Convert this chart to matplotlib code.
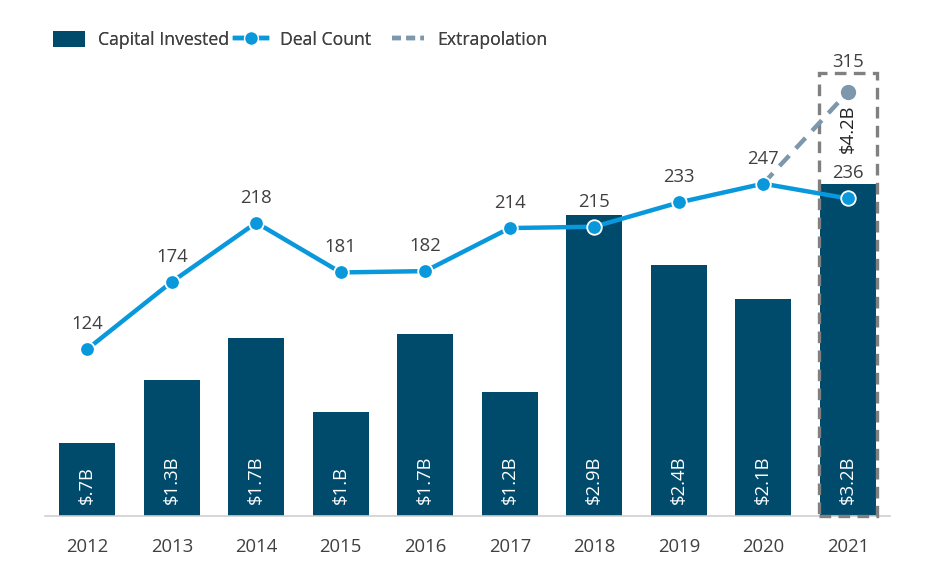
import matplotlib
matplotlib.use("Agg")
import matplotlib.pyplot as plt
from matplotlib.patches import Rectangle
from matplotlib.lines import Line2D
from matplotlib.patches import Patch

plt.rcParams['font.family'] = ['Open Sans', 'DejaVu Sans']

years = ['2012', '2013', '2014', '2015', '2016', '2017', '2018', '2019', '2020', '2021']
capital = [0.70, 1.31, 1.71, 1.00, 1.75, 1.19, 2.90, 2.42, 2.09, 3.20]
capital_labels = ['$.7B', '$1.3B', '$1.7B', '$1.B', '$1.7B', '$1.2B', '$2.9B', '$2.4B', '$2.1B', '$3.2B']
deals = [124, 174, 218, 181, 182, 214, 215, 233, 247, 236]
extrap_years = ['2020', '2021']
extrap_deals = [247, 315]
extrap_capital_label = '$4.2B'
legend_labels = ['Capital Invested', 'Deal Count', 'Extrapolation']

BAR = '#004a6b'
LINE = '#0a98dc'
EXT = '#7d97ad'
TXT = '#404040'
FS = 13.3
LFS = 12.7

fig = plt.figure(figsize=(9.36, 5.80), dpi=100)
ax = fig.add_axes([45/936, 64/580, 845/936, 456/580])
ax2 = ax.twinx()

x = list(range(len(years)))
ax.bar(x, capital, width=0.66, color=BAR, zorder=2)
ax.set_xlim(-0.5, len(years) - 0.5)
ax.set_ylim(0, 4.393)
ax2.set_ylim(0, 338.9)

for xi, lab in zip(x, capital_labels):
    ax.text(xi, 0.12, lab, rotation=90, ha='center', va='bottom', color='white', fontsize=FS, zorder=3)

# dashed box around the last year
bx = years.index(extrap_years[-1])
ax.add_patch(Rectangle((bx - 0.345, 0), 0.69, 4.268, fill=False, edgecolor='#808080',
                       linewidth=2.4, linestyle=(0, (3.5, 2.2)), zorder=4, clip_on=False))

# extrapolation
ex = [years.index(y) for y in extrap_years]
ax2.plot(ex, extrap_deals, color=EXT, linewidth=3.2, linestyle=(0, (3.2, 2.2)), zorder=3)
ax2.plot(ex[-1:], extrap_deals[-1:], 'o', color=EXT, markersize=10, zorder=4)
ax2.text(ex[-1], extrap_deals[-1] + 16, str(extrap_deals[-1]), ha='center', va='bottom', color=TXT, fontsize=FS)
ax2.text(ex[-1], 288, extrap_capital_label, rotation=90, ha='center', va='center', color='#222222', fontsize=FS)

# deal count
ax2.plot(x, deals, color=LINE, linewidth=3.2, marker='o', markersize=10.5,
         markerfacecolor=LINE, markeredgecolor='white', markeredgewidth=1.3, zorder=5)
for xi, d in zip(x, deals):
    ax2.text(xi, d + 12, str(d), ha='center', va='bottom', color=TXT, fontsize=FS)

for a in (ax, ax2):
    for s in ('top', 'left', 'right'):
        a.spines[s].set_visible(False)
    a.set_yticks([])
ax2.spines['bottom'].set_visible(False)
ax.spines['bottom'].set_color('#d0d0d0')
ax.spines['bottom'].set_linewidth(1.2)
ax.set_xticks(x)
ax.set_xticklabels(years, fontsize=FS, color=TXT)
ax.tick_params(axis='x', length=0, pad=16)

handles = [Patch(facecolor=BAR, edgecolor='none'),
           Line2D([0], [0], color=LINE, linewidth=3.2, marker='o', markersize=10,
                  markerfacecolor=LINE, markeredgecolor='white'),
           Line2D([0], [0], color=EXT, linewidth=3.2, linestyle=(0, (2, 1.2)))]
lx = [53, 235, 392]
for h, lab, px in zip(handles, legend_labels, lx):
    leg = fig.legend([h], [lab], loc='center left', bbox_to_anchor=(px/936, 1 - 40/580),
                     frameon=False, fontsize=LFS, handlelength=1.8, handleheight=1.0,
                     handletextpad=0.75, borderaxespad=0, borderpad=0)
    for t in leg.get_texts():
        t.set_color(TXT)
    fig.add_artist(leg)

fig.savefig('out.png', dpi=100)
